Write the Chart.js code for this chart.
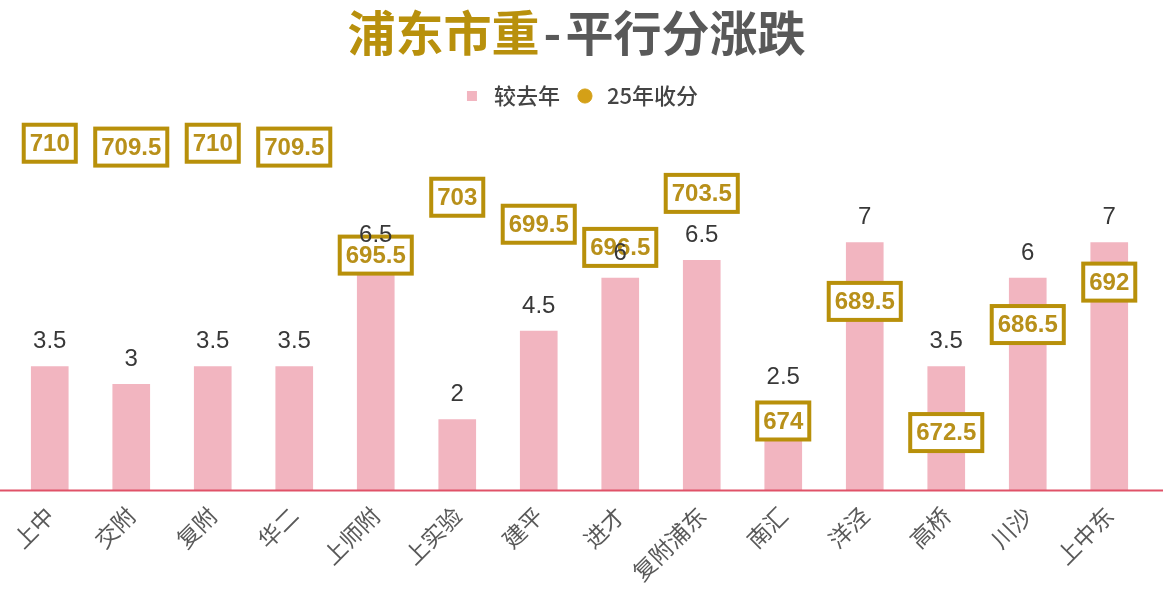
<!DOCTYPE html>
<html>
<head>
<meta charset="utf-8">
<script src="https://cdn.jsdelivr.net/npm/chart.js@4"></script>
<style>
html,body{margin:0;padding:0;background:#fff;}
#wrap{position:relative;width:1163px;height:595px;}
#title{position:absolute;left:-5px;top:-1px;width:1163px;text-align:center;font:700 48px "Noto Sans CJK SC",sans-serif;line-height:62px;color:#595959;z-index:2;}
#title span{color:#b8900c;}
#title i{font-style:normal;padding:0 4px;}
</style>
</head>
<body>
<div id="wrap">
<div id="title"><span>浦东市重</span><i>-</i>平行分涨跌</div>
<canvas id="c"></canvas>
</div>
<script>
// 数据
let schools=["上中","交附","复附","华二","上师附","上实验","建平","进才","复附浦东","南汇","洋泾","高桥","川沙","上中东"];
let diffs=[3.5,3,3.5,3.5,6.5,2,4.5,6,6.5,2.5,7,3.5,6,7];
let scores=[710,709.5,710,709.5,695.5,703,699.5,696.5,703.5,674,689.5,672.5,686.5,692];

let numFont='"Liberation Sans","Noto Sans CJK SC",sans-serif';
let cjkFont='"Noto Sans CJK SC",sans-serif';

// 轴线贯穿全宽
const baseLine={
id:"baseLine",
afterDatasetsDraw(chart){
let ctx=chart.ctx;
let y=chart.scales.y.getPixelForValue(0);
ctx.save();
ctx.strokeStyle="#e05268";
ctx.lineWidth=2;
ctx.beginPath();
ctx.moveTo(0,y);ctx.lineTo(chart.width,y);
ctx.stroke();
ctx.restore();
}
};

// 标签：分数框 + 柱顶数值
const labels={
id:"labels",
afterDatasetsDraw(chart){
let ctx=chart.ctx;
ctx.save();
ctx.textAlign="center";
ctx.textBaseline="middle";
// 分数框
ctx.font="bold 24px "+numFont;
chart.getDatasetMeta(1).data.forEach((p,i)=>{
let txt=String(scores[i]);
let w=ctx.measureText(txt).width+12,h=37;
ctx.fillStyle="#fff";
ctx.fillRect(p.x-w/2,p.y-h/2,w,h);
ctx.strokeStyle="#b8900a";
ctx.lineWidth=4;
ctx.strokeRect(p.x-w/2,p.y-h/2,w,h);
ctx.fillStyle="#b8901a";
ctx.fillText(txt,p.x,p.y+1);
});
// 柱顶数值
ctx.font="24px "+numFont;
ctx.fillStyle="#383838";
chart.getDatasetMeta(0).data.forEach((b,i)=>{
ctx.fillText(String(diffs[i]),b.x,b.y-25);
});
ctx.restore();
}
};

new Chart(document.getElementById("c"),{
data:{
labels:schools,
datasets:[
{type:"bar",label:"较去年",data:diffs,backgroundColor:"#f2b5c0",barThickness:37,yAxisID:"y",pointStyle:"rect"},
{type:"line",label:"25年收分",data:scores,showLine:false,pointRadius:0,backgroundColor:"#d4a017",borderColor:"#d4a017",yAxisID:"y2",pointStyle:"circle"}
]
},
options:{
responsive:true,
maintainAspectRatio:false,
animation:false,
layout:{padding:{top:71,left:9,right:13,bottom:6}},
plugins:{
legend:{
position:"top",
labels:{usePointStyle:true,boxHeight:10,color:"#444444",font:{size:22,family:cjkFont,weight:500},padding:14}
},
tooltip:{enabled:false}
},
scales:{
x:{
grid:{display:false},
border:{display:false},
ticks:{minRotation:45,maxRotation:45,color:"#595959",font:{size:23,family:cjkFont}}
},
y:{display:false,min:0,max:10.55},
y2:{display:false,min:665,max:713.4,position:"right"}
}
},
plugins:[baseLine,labels]
});
</script>
</body>
</html>
